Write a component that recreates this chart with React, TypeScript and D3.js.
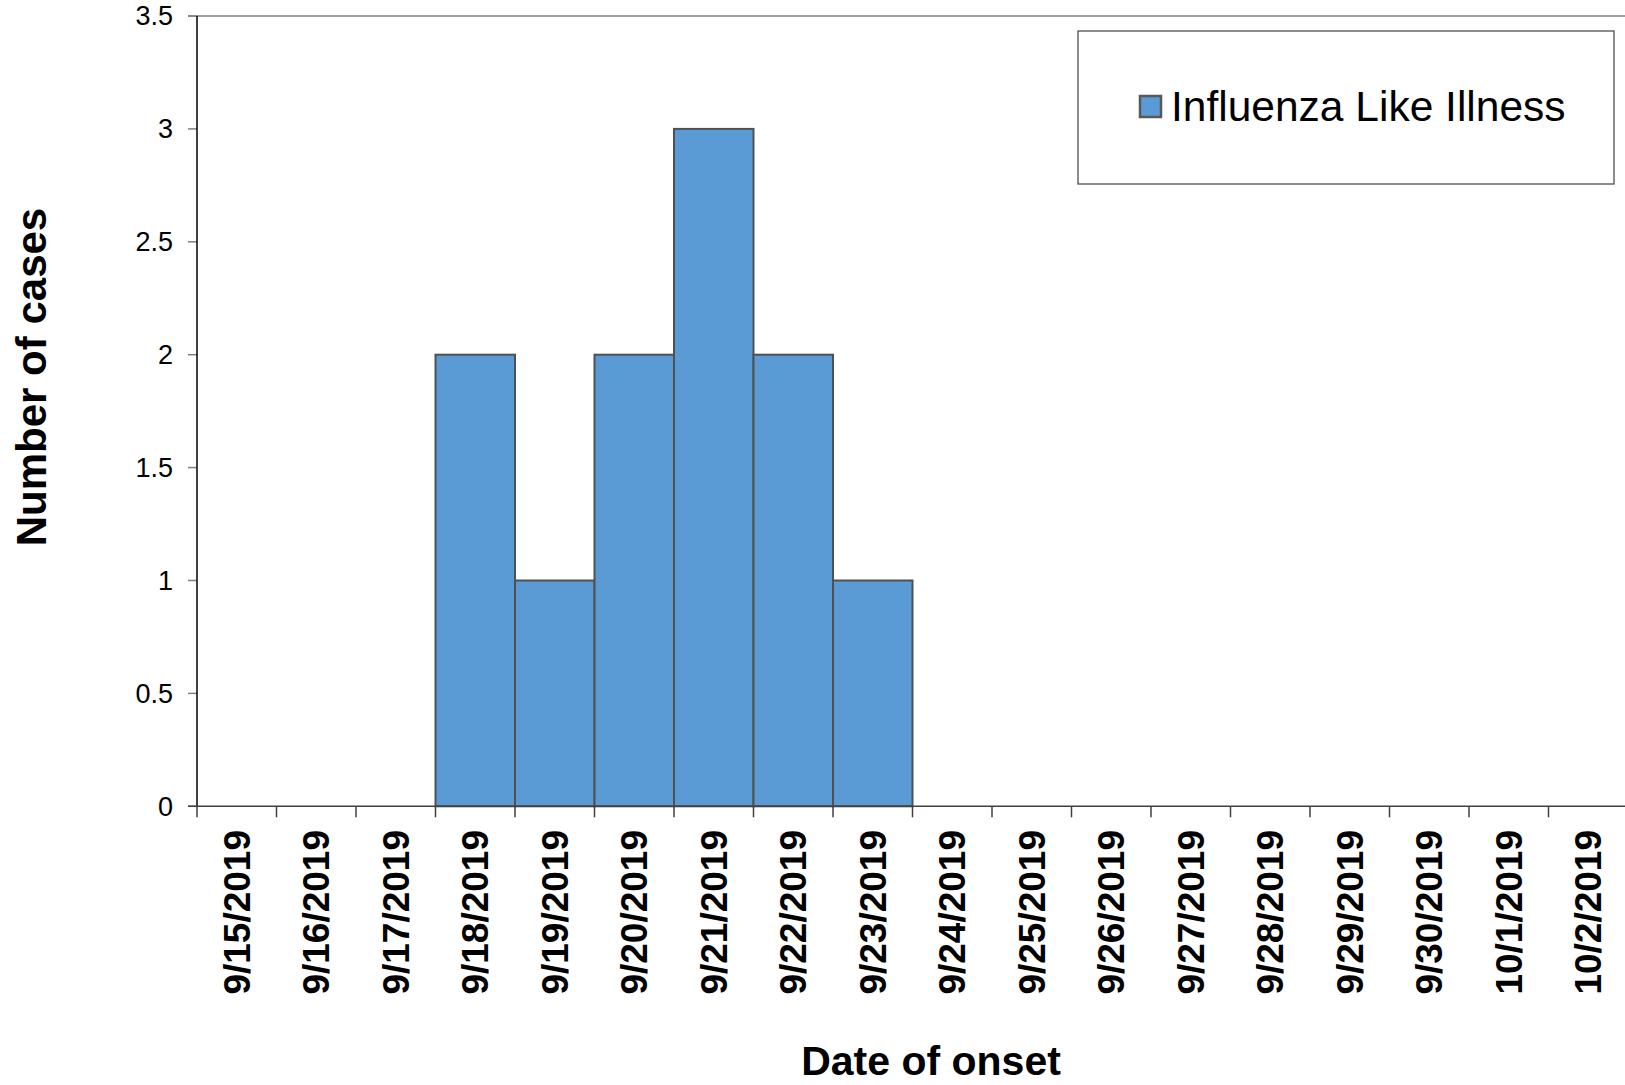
import React from "react";
import * as d3 from "d3";

const categories = [
  "9/15/2019", "9/16/2019", "9/17/2019", "9/18/2019", "9/19/2019", "9/20/2019",
  "9/21/2019", "9/22/2019", "9/23/2019", "9/24/2019", "9/25/2019", "9/26/2019",
  "9/27/2019", "9/28/2019", "9/29/2019", "9/30/2019", "10/1/2019", "10/2/2019",
];
const cases = [0, 0, 0, 2, 1, 2, 3, 2, 1, 0, 0, 0, 0, 0, 0, 0, 0, 0];
const yTicks = [0, 0.5, 1, 1.5, 2, 2.5, 3, 3.5];
const seriesName = "Influenza Like Illness";
const xTitle = "Date of onset";
const yTitle = "Number of cases";

const W = 1625;
const H = 1085;
const FONT = "'Liberation Sans', Arial, sans-serif";

export default function App() {
  const x = d3.scaleBand<string>().domain(categories).range([197, 197 + 18 * 79.5]).padding(0);
  const y = d3.scaleLinear().domain([0, 3.5]).range([806.3, 16]);
  const bw = x.bandwidth();

  return (
    <svg width={W} height={H} style={{ position: "absolute", left: 0, top: 0, display: "block", background: "#fff" }}>
      <line x1={188} x2={W} y1={y(3.5)} y2={y(3.5)} stroke="#808080" strokeWidth={1.5} />
      {yTicks.map((t) => (
        <g key={t}>
          <line x1={188} x2={197} y1={y(t)} y2={y(t)} stroke="#808080" strokeWidth={1.5} />
          <text x={173} y={y(t)} dy="0.35em" textAnchor="end" fontFamily={FONT} fontSize={27} fill="#000">
            {t}
          </text>
        </g>
      ))}
      {categories.map((c, i) =>
        cases[i] > 0 ? (
          <rect
            key={c}
            x={x(c)!}
            y={y(cases[i])}
            width={bw}
            height={y(0) - y(cases[i])}
            fill="#5B9BD5"
            stroke="#505050"
            strokeWidth={2}
          />
        ) : null
      )}
      <line x1={197} x2={197} y1={y(3.5)} y2={y(0)} stroke="#000" strokeWidth={1.5} />
      <line x1={188} x2={W} y1={y(0)} y2={y(0)} stroke="#404040" strokeWidth={1.5} />
      {categories.map((c) => (
        <line key={"t" + c} x1={x(c)!} x2={x(c)!} y1={y(0)} y2={y(0) + 11} stroke="#404040" strokeWidth={1.5} />
      ))}
      {categories.map((c) => {
        const cx = x(c)! + bw / 2;
        return (
          <text
            key={"l" + c}
            transform={`translate(${cx},830) rotate(-90)`}
            dy="0.35em"
            textAnchor="end"
            fontFamily={FONT}
            fontWeight="bold"
            fontSize={37}
            fill="#000"
          >
            {c}
          </text>
        );
      })}
      <text x={931} y={1075} textAnchor="middle" fontFamily={FONT} fontWeight="bold" fontSize={41} fill="#000">
        {xTitle}
      </text>
      <text
        transform={`translate(46,377) rotate(-90)`}
        textAnchor="middle"
        fontFamily={FONT}
        fontWeight="bold"
        fontSize={42}
        fill="#000"
      >
        {yTitle}
      </text>
      <rect x={1078} y={31} width={536} height={153} fill="#fff" stroke="#404040" strokeWidth={1.2} />
      <rect x={1140} y={96} width={21} height={21} fill="#5B9BD5" stroke="#595959" strokeWidth={2.5} />
      <text x={1171} y={106} dy="0.35em" fontFamily={FONT} fontSize={42.5} fill="#000">
        {seriesName}
      </text>
    </svg>
  );
}
